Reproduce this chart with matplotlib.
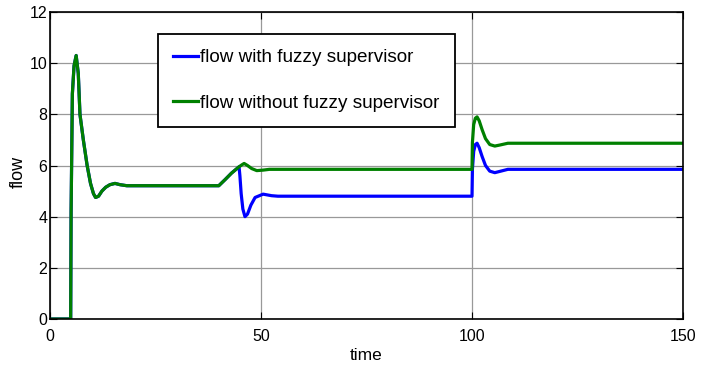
import matplotlib
matplotlib.use('Agg')
import matplotlib.pyplot as plt

plt.rcParams['font.family'] = ['Liberation Sans', 'DejaVu Sans']

# curva sem supervisor fuzzy (verde)
t_green = [0, 4.9, 5.0, 5.3, 5.7, 6.2, 6.7, 7.1, 7.9, 8.8, 9.6, 10.3, 10.8, 11.5,
           12.3, 13.2, 14.2, 15.4, 16.6, 18.2, 40.0, 41.5, 43.0, 44.8, 45.5, 46.0,
           46.8, 47.8, 49.0, 50.5, 52.0, 100.0, 100.1, 100.4, 100.8, 101.2, 101.7,
           102.4, 103.2, 104.2, 105.4, 106.6, 108.5, 150]
y_green = [0, 0, 4.2, 8.8, 9.9, 10.3, 9.6, 8.0, 7.0, 6.0, 5.3, 4.9, 4.75, 4.8,
           5.0, 5.15, 5.25, 5.3, 5.25, 5.21, 5.21, 5.45, 5.7, 5.95, 6.03, 6.08,
           6.0, 5.88, 5.8, 5.82, 5.85, 5.85, 6.9, 7.6, 7.85, 7.9, 7.75,
           7.4, 7.05, 6.82, 6.76, 6.8, 6.87, 6.87]

# curva com supervisor fuzzy (azul)
t_blue = [0, 4.9, 5.0, 5.3, 5.7, 6.2, 6.7, 7.1, 7.9, 8.8, 9.6, 10.3, 10.8, 11.5,
          12.3, 13.2, 14.2, 15.4, 16.6, 18.2, 40.0, 41.5, 43.0, 44.8, 45.0, 45.3,
          45.7, 46.2, 46.8, 47.6, 48.6, 50.5, 52.5, 54.0, 100.0, 100.1, 100.4,
          100.8, 101.2, 101.7, 102.4, 103.2, 104.2, 105.4, 106.6, 108.5, 150]
y_blue = [0, 0, 4.2, 8.8, 9.9, 10.3, 9.6, 8.0, 7.0, 6.0, 5.3, 4.9, 4.75, 4.8,
          5.0, 5.15, 5.25, 5.3, 5.25, 5.21, 5.21, 5.45, 5.7, 5.95, 5.6, 4.9,
          4.3, 4.0, 4.1, 4.45, 4.75, 4.88, 4.82, 4.8, 4.8, 5.85, 6.55,
          6.82, 6.87, 6.7, 6.35, 6.0, 5.78, 5.72, 5.77, 5.85, 5.85]

xticks = [0, 50, 100, 150]
yticks = [0, 2, 4, 6, 8, 10, 12]

fig = plt.figure(figsize=(7.12, 3.67), dpi=100)
ax = fig.add_axes([50 / 712, 48 / 367, 633 / 712, 307 / 367])

ax.plot(t_blue, y_blue, color=(0, 0, 1), lw=2.3, label='flow with fuzzy supervisor')
ax.plot(t_green, y_green, color=(0, 0.5, 0), lw=2.3, label='flow without fuzzy supervisor')

ax.set_xlim(0, 150)
ax.set_ylim(0, 12)
ax.set_xticks(xticks)
ax.set_yticks(yticks)
ax.grid(True, color='#999999', lw=0.9)
ax.tick_params(direction='in', top=True, right=True, length=5, labelsize=11.5)
ax.tick_params(axis='x', pad=7)
ax.tick_params(axis='y', pad=2)
for s in ax.spines.values():
    s.set_linewidth(1.2)

ax.set_xlabel('time', fontsize=12.5, labelpad=3)
fig.text(27 / 712, 1 - 172 / 367, 'flow', rotation=90, ha='right', va='center',
         fontsize=13)

leg = ax.legend(loc='upper left', bbox_to_anchor=(158 / 712, 1 - 34 / 367),
                bbox_transform=fig.transFigure, fontsize=13.6, handlelength=1.3,
                handletextpad=0.15, labelspacing=1.5, borderpad=0.8,
                borderaxespad=0, fancybox=False, framealpha=1)
leg.get_frame().set_edgecolor('black')
leg.get_frame().set_linewidth(1.3)

fig.savefig('out.png', dpi=100)
